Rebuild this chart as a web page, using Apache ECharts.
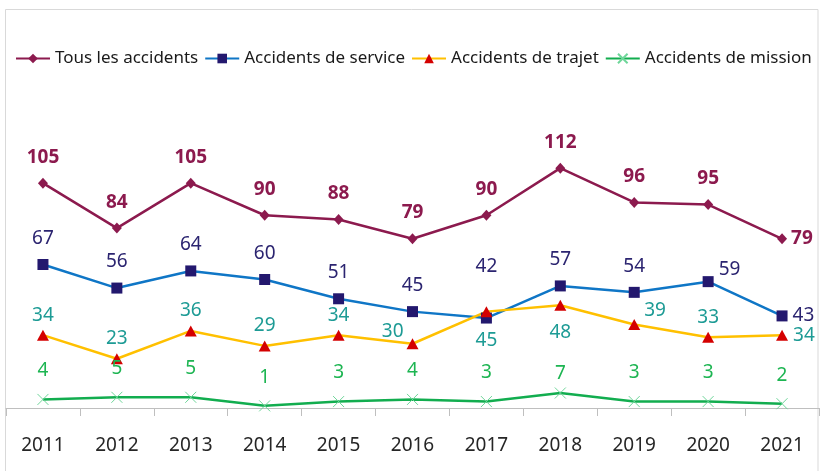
<!DOCTYPE html>
<html>
<head>
<meta charset="utf-8">
<script src="https://cdn.jsdelivr.net/npm/echarts@6/dist/echarts.min.js"></script>
<style>
  html, body { margin: 0; padding: 0; background: #fff; }
  #chart { width: 820px; height: 471px; }
</style>
</head>
<body>
<div id="chart"></div>
<script>
// années et nombres d'accidents
const years = ['2011', '2012', '2013', '2014', '2015', '2016', '2017', '2018', '2019', '2020', '2021'];
const tousAccidents = [105, 84, 105, 90, 88, 79, 90, 112, 96, 95, 79];
const accidentsService = [67, 56, 64, 60, 51, 45, 42, 57, 54, 59, 43];
const accidentsTrajet = [34, 23, 36, 29, 34, 30, 45, 48, 39, 33, 34];
const accidentsMission = [4, 5, 5, 1, 3, 4, 3, 7, 3, 3, 2];

const FONT = 'Noto Sans';

// placement particulier de quelques étiquettes (index -> label)
const tousLabelTweaks = { 10: { position: 'right', distance: 4 } };
const serviceLabelTweaks = {
  6: { distance: 36 },
  9: { position: 'right', distance: 5, offset: [0, -12] },
  10: { position: 'right', distance: 5 }
};
const trajetLabelTweaks = {
  5: { position: 'left', distance: 3, offset: [0, -12] },
  6: { position: 'bottom', distance: 14 },
  7: { position: 'bottom', distance: 12 },
  8: { position: 'right', distance: 4, offset: [0, -14] },
  10: { position: 'right', distance: 5 }
};
const missionLabelTweaks = { 7: { distance: 2 } };

function withLabels(values, tweaks) {
  return values.map((v, i) => tweaks[i] ? { value: v, label: tweaks[i] } : v);
}

const chart = echarts.init(document.getElementById('chart'));

const option = {
  backgroundColor: '#ffffff',
  animation: false,
  graphic: [{
    type: 'rect',
    shape: { x: 5.5, y: 9.5, width: 812.5, height: 480 },
    style: { fill: 'none', stroke: '#d9d9d9', lineWidth: 1 },
    z: -1
  }],
  legend: {
    left: 10,
    top: 45,
    width: 810,
    itemWidth: 34,
    itemHeight: 12,
    itemGap: 6,
    textStyle: { fontFamily: FONT, fontSize: 17, color: '#1a1a1a' },
    data: ['Tous les accidents', 'Accidents de service', 'Accidents de trajet', 'Accidents de mission']
  },
  grid: { left: 6, right: 1, top: 151, bottom: 63 },
  xAxis: {
    type: 'category',
    data: years,
    boundaryGap: true,
    axisLine: { lineStyle: { color: '#bfbfbf', width: 1 } },
    axisTick: { show: true, length: 8, lineStyle: { color: '#bfbfbf' } },
    axisLabel: { margin: 28, fontFamily: FONT, fontSize: 19, color: '#262626' }
  },
  yAxis: {
    type: 'value',
    min: 0,
    max: 120,
    show: false,
    splitLine: { show: false }
  },
  series: [
    {
      name: 'Tous les accidents',
      type: 'line',
      data: withLabels(tousAccidents, tousLabelTweaks),
      symbol: 'diamond',
      symbolSize: [10, 11],
      color: '#8c1a4e',
      lineStyle: { color: '#8c1a4e', width: 2.5 },
      itemStyle: { color: '#8c1a4e' },
      label: {
        show: true, position: 'top', distance: 11,
        fontFamily: FONT, fontSize: 19, fontWeight: 'bold', color: '#8c1a4e'
      }
    },
    {
      name: 'Accidents de service',
      type: 'line',
      data: withLabels(accidentsService, serviceLabelTweaks),
      symbol: 'rect',
      symbolSize: 11,
      color: '#0f76c6',
      lineStyle: { color: '#0f76c6', width: 2.5 },
      itemStyle: { color: '#23186e' },
      label: {
        show: true, position: 'top', distance: 11,
        fontFamily: FONT, fontSize: 19, color: '#2b2470'
      }
    },
    {
      name: 'Accidents de trajet',
      type: 'line',
      data: withLabels(accidentsTrajet, trajetLabelTweaks),
      symbol: 'triangle',
      symbolSize: [12, 11],
      color: '#ffc000',
      lineStyle: { color: '#ffc000', width: 2.5 },
      itemStyle: { color: '#d40000' },
      label: {
        show: true, position: 'top', distance: 5,
        fontFamily: FONT, fontSize: 19, color: '#1d9b95'
      }
    },
    {
      name: 'Accidents de mission',
      type: 'line',
      data: withLabels(accidentsMission, missionLabelTweaks),
      symbol: 'path://M0,0L10,10M10,0L0,10',
      symbolSize: 11,
      color: '#12ad4f',
      lineStyle: { color: '#12ad4f', width: 2.5 },
      itemStyle: { color: 'none', borderColor: '#6fd69a', borderWidth: 1 },
      label: {
        show: true, position: 'top', distance: 11,
        fontFamily: FONT, fontSize: 19, color: '#1db552'
      }
    }
  ]
};

chart.setOption(option);
</script>
</body>
</html>
